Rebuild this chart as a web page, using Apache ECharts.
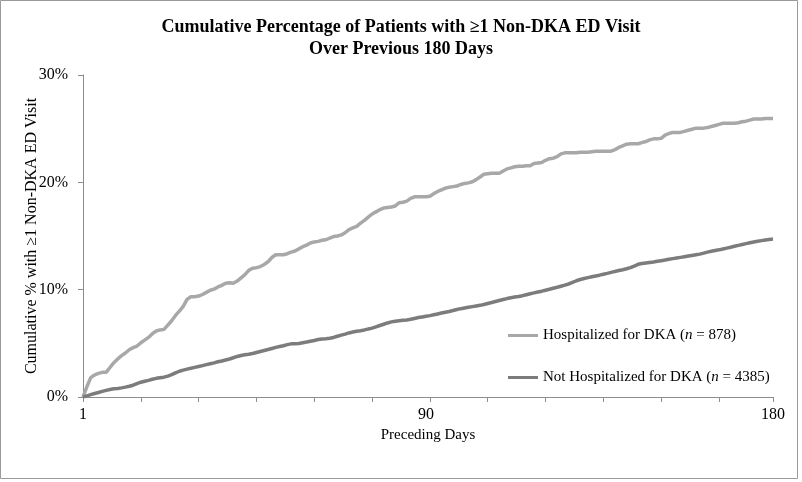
<!DOCTYPE html>
<html>
<head>
<meta charset="utf-8">
<script src="https://cdn.jsdelivr.net/npm/echarts@6/dist/echarts.min.js"></script>
<style>html,body{margin:0;padding:0;background:#fff}#c{width:802px;height:482px}</style>
</head>
<body>
<div id="c"></div>
<script>
const days = Array.from({length: 180}, (_, i) => String(i + 1));
const xTickLabels = ['1', '90', '180'];
const yTickLabels = ['0%', '10%', '20%', '30%'];
const hospitalized = [
0.00,0.95,1.80,2.05,2.20,2.30,2.30,2.75,3.20,3.55,
3.85,4.10,4.40,4.60,4.75,5.05,5.30,5.55,5.90,6.15,
6.25,6.30,6.70,7.10,7.60,8.00,8.45,9.10,9.35,9.35,
9.40,9.55,9.75,9.95,10.05,10.25,10.40,10.60,10.65,10.60,
10.80,11.10,11.40,11.80,12.00,12.05,12.15,12.35,12.60,13.00,
13.25,13.25,13.25,13.35,13.50,13.60,13.80,14.00,14.15,14.35,
14.45,14.50,14.60,14.65,14.80,14.95,15.00,15.10,15.30,15.60,
15.75,15.90,16.20,16.45,16.75,17.05,17.25,17.45,17.60,17.65,
17.70,17.80,18.10,18.15,18.25,18.50,18.65,18.65,18.65,18.65,
18.70,18.95,19.15,19.30,19.45,19.55,19.60,19.65,19.80,19.90,
19.95,20.05,20.25,20.50,20.75,20.80,20.85,20.85,20.85,21.05,
21.25,21.35,21.45,21.50,21.50,21.55,21.55,21.75,21.80,21.85,
22.05,22.20,22.25,22.40,22.65,22.75,22.75,22.75,22.75,22.80,
22.80,22.80,22.85,22.90,22.90,22.90,22.90,22.90,23.05,23.25,
23.40,23.55,23.60,23.60,23.60,23.70,23.80,23.95,24.05,24.05,
24.10,24.40,24.55,24.65,24.65,24.65,24.75,24.85,24.95,25.05,
25.05,25.05,25.10,25.20,25.30,25.40,25.50,25.50,25.50,25.50,
25.55,25.65,25.70,25.80,25.90,25.90,25.90,25.95,25.95,25.95
];
const notHospitalized = [
0.00,0.10,0.22,0.33,0.42,0.52,0.62,0.70,0.76,0.80,
0.85,0.92,1.00,1.10,1.25,1.38,1.47,1.55,1.65,1.74,
1.80,1.85,1.95,2.08,2.25,2.40,2.50,2.60,2.68,2.76,
2.84,2.92,3.02,3.10,3.18,3.28,3.36,3.45,3.54,3.66,
3.78,3.87,3.93,3.98,4.05,4.15,4.24,4.33,4.42,4.52,
4.62,4.70,4.78,4.88,4.95,4.96,4.98,5.05,5.12,5.20,
5.27,5.35,5.40,5.43,5.47,5.55,5.66,5.76,5.86,5.97,
6.05,6.12,6.18,6.25,6.33,6.42,6.54,6.66,6.78,6.90,
7.00,7.06,7.10,7.14,7.18,7.24,7.32,7.40,7.46,7.52,
7.58,7.66,7.74,7.82,7.90,7.97,8.06,8.15,8.23,8.30,
8.36,8.42,8.48,8.54,8.62,8.71,8.80,8.90,8.99,9.08,
9.17,9.25,9.31,9.36,9.44,9.53,9.62,9.70,9.78,9.86,
9.95,10.04,10.13,10.22,10.32,10.42,10.53,10.68,10.83,10.95,
11.04,11.12,11.20,11.28,11.35,11.44,11.52,11.61,11.70,11.78,
11.86,11.95,12.05,12.20,12.36,12.43,12.48,12.53,12.58,12.64,
12.70,12.76,12.83,12.89,12.95,13.01,13.07,13.13,13.19,13.25,
13.31,13.40,13.50,13.58,13.65,13.71,13.79,13.87,13.95,14.04,
14.13,14.21,14.29,14.37,14.44,14.51,14.57,14.63,14.68,14.71
];
const seriesNames = ['Hospitalized for DKA (n = 878)', 'Not Hospitalized for DKA (n = 4385)'];

const FONT = '"Liberation Serif", "Times New Roman", serif';
const chart = echarts.init(document.getElementById('c'), null, {renderer: 'canvas'});
chart.setOption({
  animation: false,
  backgroundColor: '#fff',
  graphic: [{
    type: 'rect', shape: {x: 0.5, y: 0.5, width: 797, height: 478},
    style: {fill: 'none', stroke: '#9a9a9a', lineWidth: 1}, silent: true
  }],
  title: {
    text: 'Cumulative Percentage of Patients with \u22651 Non-DKA ED Visit\nOver Previous 180 Days',
    left: 'center', top: 11,
    textStyle: {fontFamily: FONT, fontWeight: 'bold', fontSize: 18, color: '#000', lineHeight: 22}
  },
  grid: {left: 83, right: 29, top: 75, bottom: 85, containLabel: false},
  legend: {
    orient: 'vertical', left: 508, top: 328, itemGap: 27, padding: 0,
    icon: 'rect', itemWidth: 30, itemHeight: 3,
    textStyle: {
      fontFamily: FONT, fontSize: 15, color: '#000',
      rich: {
        a: {fontFamily: FONT, fontSize: 15, color: '#000'},
        i: {fontFamily: FONT, fontSize: 15, color: '#000', fontStyle: 'italic'}
      }
    },
    formatter: function (name) {
      const parts = name.split('(n');
      return '{a|' + parts[0] + '(}{i|n}{a|' + parts[1] + '}';
    },
    data: seriesNames
  },
  xAxis: {
    type: 'category', data: days, boundaryGap: false,
    name: 'Preceding Days', nameLocation: 'middle', nameGap: 30,
    nameTextStyle: {fontFamily: FONT, fontSize: 15, color: '#000'},
    axisLine: {lineStyle: {color: '#8c8c8c', width: 1}},
    axisTick: {show: true, length: 5, lineStyle: {color: '#8c8c8c'},
      interval: function (i) { return i % 15 === 0 || i === 179; }},
    axisLabel: {fontFamily: FONT, fontSize: 16, color: '#000', margin: 10,
      interval: function (i) { return i === 0 || i === 89 || i === 179; },
      formatter: function (v) { return xTickLabels.indexOf(v) >= 0 ? v : ''; }},
    splitLine: {show: false}
  },
  yAxis: {
    type: 'value', min: 0, max: 30, interval: 10,
    name: 'Cumulative % with \u22651 Non-DKA ED Visit',
    nameLocation: 'middle', nameGap: 51, nameRotate: 90, nameMoveOverlap: false,
    nameTextStyle: {fontFamily: FONT, fontSize: 16, color: '#000', verticalAlign: 'middle'},
    axisLine: {show: true, lineStyle: {color: '#8c8c8c', width: 1}},
    axisTick: {show: true, length: 5, lineStyle: {color: '#8c8c8c'}},
    axisLabel: {fontFamily: FONT, fontSize: 16, color: '#000', margin: 15,
      formatter: function (v) { return yTickLabels[Math.round(v / 10)]; }},
    splitLine: {show: false}
  },
  series: [
    {name: seriesNames[0], type: 'line', data: hospitalized, showSymbol: false, symbol: 'none',
      itemStyle: {color: '#a8a8a8'}, lineStyle: {color: '#a8a8a8', width: 3.5}},
    {name: seriesNames[1], type: 'line', data: notHospitalized, showSymbol: false, symbol: 'none',
      itemStyle: {color: '#7c7c7c'}, lineStyle: {color: '#7c7c7c', width: 3.5}}
  ]
});
</script>
</body>
</html>
